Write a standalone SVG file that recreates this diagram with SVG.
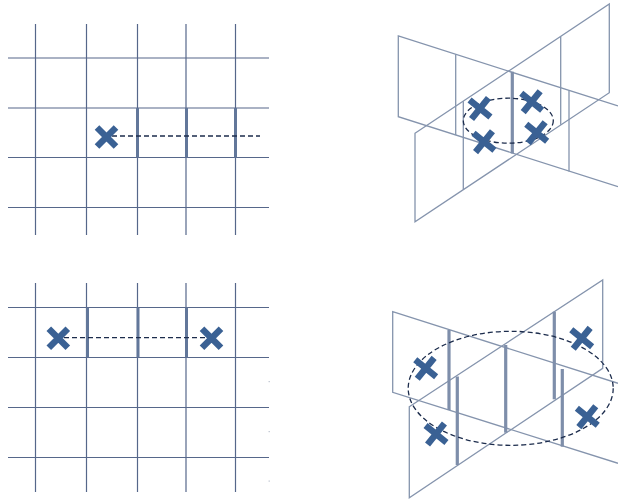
<svg xmlns="http://www.w3.org/2000/svg" width="618" height="500" viewBox="0 0 618 500">
  <defs>
    <style>
      .grid { stroke: #56678a; stroke-width: 1.2; fill: none; }
      .bar { stroke: #62779a; stroke-width: 3; fill: none; }
      .plane { stroke: #8594ad; stroke-width: 1.3; fill: none; }
      .pbar { stroke: #7e8eaa; stroke-width: 3.2; fill: none; }
      .dash { stroke: #1c2c4c; stroke-width: 1.3; stroke-dasharray: 5 3; fill: none; }
      .x { stroke: #3a6194; stroke-width: 6.5; fill: none; }
      .speck { fill: #c6ccd6; }
    </style>
    <path id="cross" d="M-9.5,-9.5 L9.5,9.5 M-9.5,9.5 L9.5,-9.5"/>
  </defs>
  <rect width="618" height="500" fill="#ffffff"/>

  <!-- Top-left grid panel -->
  <g id="panel-top-left">
    <g class="grid">
      <line x1="35.5" y1="24" x2="35.5" y2="235"/>
      <line x1="86.5" y1="24" x2="86.5" y2="235"/>
      <line x1="137.5" y1="24" x2="137.5" y2="235"/>
      <line x1="186" y1="24" x2="186" y2="235"/>
      <line x1="235.5" y1="24" x2="235.5" y2="235"/>
      <line x1="8" y1="58" x2="269" y2="58"/>
      <line x1="8" y1="108" x2="269" y2="108"/>
      <line x1="8" y1="157.5" x2="269" y2="157.5"/>
      <line x1="8" y1="207.5" x2="269" y2="207.5"/>
    </g>
    <g class="bar">
      <line x1="137.5" y1="108" x2="137.5" y2="157.5"/>
      <line x1="186.5" y1="108" x2="186.5" y2="157.5"/>
      <line x1="235.5" y1="108" x2="235.5" y2="157.5"/>
    </g>
  </g>

  <!-- Bottom-left grid panel -->
  <g id="panel-bottom-left">
    <g class="grid">
      <line x1="35.5" y1="283" x2="35.5" y2="492"/>
      <line x1="86.5" y1="283" x2="86.5" y2="492"/>
      <line x1="137.5" y1="283" x2="137.5" y2="492"/>
      <line x1="186" y1="283" x2="186" y2="492"/>
      <line x1="235.5" y1="283" x2="235.5" y2="492"/>
      <line x1="8" y1="307.5" x2="269" y2="307.5"/>
      <line x1="8" y1="357.5" x2="269" y2="357.5"/>
      <line x1="8" y1="407.5" x2="269" y2="407.5"/>
      <line x1="8" y1="457.5" x2="269" y2="457.5"/>
    </g>
    <g class="bar">
      <line x1="87.5" y1="307.5" x2="87.5" y2="357.5"/>
      <line x1="138" y1="307.5" x2="138" y2="357.5"/>
      <line x1="186.5" y1="307.5" x2="186.5" y2="357.5"/>
    </g>
    <rect class="speck" x="268.5" y="381" width="1.5" height="1.2"/>
    <rect class="speck" x="268.5" y="431" width="1.5" height="1.2"/>
    <rect class="speck" x="268.5" y="480.5" width="1.5" height="1.2"/>
  </g>

  <!-- Top-right 3D panels -->
  <g id="panel-top-right">
    <path class="plane" d="M618,106 L398.3,36 L398.3,116.7 L618,186.7"/>
    <path class="plane" d="M415,133.3 L609.3,4 L609.3,92.7 L415,221.7 Z"/>
    <g class="plane">
      <line x1="455.7" y1="54.3" x2="455.7" y2="135"/>
      <line x1="569" y1="90.5" x2="569" y2="171.5"/>
      <line x1="463.3" y1="101.2" x2="463.3" y2="189.6"/>
      <line x1="560.7" y1="36.4" x2="560.7" y2="124.8"/>
    </g>
    <line class="pbar" x1="512.3" y1="71.7" x2="512.3" y2="153.5"/>
  </g>

  <!-- Bottom-right 3D panels -->
  <g id="panel-bottom-right">
    <path class="plane" d="M618,383.3 L392.7,311.7 L392.7,392.3 L618,463.3"/>
    <path class="plane" d="M409.3,406.7 L602.7,280 L602.7,368.3 L409.3,497.7 Z"/>
    <g class="pbar">
      <line x1="449" y1="330" x2="449" y2="410"/>
      <line x1="457.3" y1="376.5" x2="457.3" y2="465"/>
      <line x1="505.7" y1="345" x2="505.7" y2="432.7"/>
      <line x1="554.3" y1="311.7" x2="554.3" y2="399.3"/>
      <line x1="562.3" y1="369" x2="562.3" y2="446.7"/>
    </g>
  </g>

  <!-- Connectors -->
  <g id="connectors">
    <line class="dash" x1="112" y1="136" x2="260" y2="136"/>
    <line class="dash" x1="64" y1="337.7" x2="208" y2="337.7"/>
    <ellipse class="dash" cx="508.3" cy="120.7" rx="45" ry="22.5"/>
    <ellipse class="dash" cx="510.7" cy="388.3" rx="102.5" ry="57"/>
  </g>

  <!-- Crosses -->
  <g id="cross-tl"><use href="#cross" class="x" transform="translate(106.5,137)"/></g>
  <g id="cross-bl-1"><use href="#cross" class="x" transform="translate(58.3,338.3)"/></g>
  <g id="cross-bl-2"><use href="#cross" class="x" transform="translate(211.5,338.3)"/></g>
  <g id="cross-tr-1"><use href="#cross" class="x" transform="translate(480,108.5) rotate(-6)"/></g>
  <g id="cross-tr-2"><use href="#cross" class="x" transform="translate(531.7,101.7) rotate(-6)"/></g>
  <g id="cross-tr-3"><use href="#cross" class="x" transform="translate(484,141.7) rotate(-6)"/></g>
  <g id="cross-tr-4"><use href="#cross" class="x" transform="translate(536.7,132.7) rotate(-6)"/></g>
  <g id="cross-br-1"><use href="#cross" class="x" transform="translate(425.7,368.3) rotate(-6)"/></g>
  <g id="cross-br-2"><use href="#cross" class="x" transform="translate(581.7,338.3) rotate(-6)"/></g>
  <g id="cross-br-3"><use href="#cross" class="x" transform="translate(436,434) rotate(-6)"/></g>
  <g id="cross-br-4"><use href="#cross" class="x" transform="translate(587.3,416.7) rotate(-6)"/></g>
</svg>
